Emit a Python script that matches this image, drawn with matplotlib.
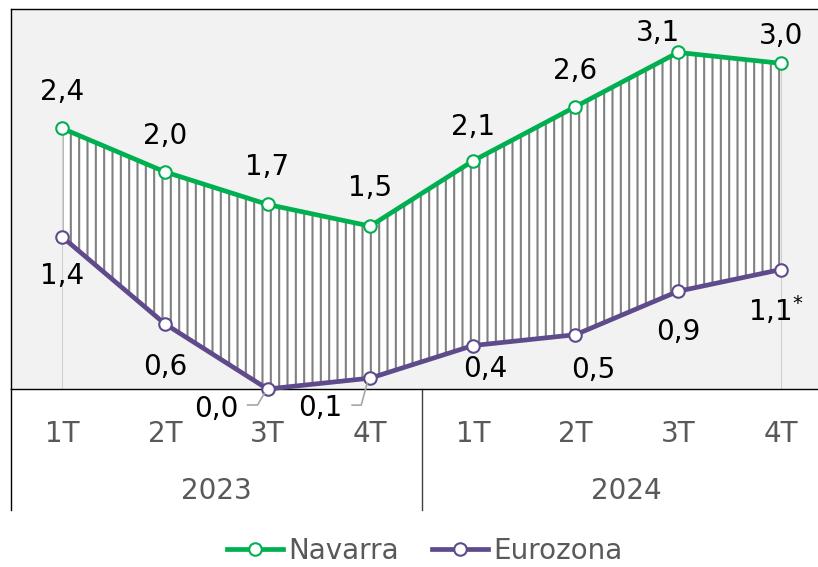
import numpy as np
import matplotlib.pyplot as plt
from matplotlib.lines import Line2D
import matplotlib.transforms as mtransforms

plt.rcParams['font.family'] = ['DejaVu Sans']

quarters = ["1T", "2T", "3T", "4T", "1T", "2T", "3T", "4T"]
years = ["2023", "2024"]
navarra = [2.4, 2.0, 1.7, 1.5, 2.1, 2.6, 3.1, 3.0]
eurozona = [1.4, 0.6, 0.0, 0.1, 0.4, 0.5, 0.9, 1.1]
nav_labels = ["2,4", "2,0", "1,7", "1,5", "2,1", "2,6", "3,1", "3,0"]
eur_labels = ["1,4", "0,6", "0,0", "0,1", "0,4", "0,5", "0,9", "1,1*"]

green = "#00B050"
purple = "#5F4B8B"

fig = plt.figure(figsize=(8.18, 5.67), dpi=100)
W, H = 818, 567
ax = fig.add_axes([11 / W, (H - 389) / H, (832 - 11) / W, (389 - 9) / H])
ax.set_facecolor("#F2F2F2")
ax.set_xlim(-0.5, 7.5)
ax.set_ylim(0, 3.5)

x = np.arange(len(quarters))

# banda rayada entre las dos series
plt.rcParams['hatch.linewidth'] = 1.5
ax.fill_between(x, eurozona, navarra, facecolor="white", edgecolor="#808080",
                hatch="||", linewidth=0, zorder=1)
ax.vlines([x[0], x[-1]], 0, [navarra[0], navarra[-1]], color="#D0D0D0", lw=0.8, zorder=1.5)

ax.plot(x, navarra, color=green, lw=3.4, marker="o", ms=9, mfc="white", mec=green, mew=1.5,
        zorder=3, clip_on=False)
ax.plot(x, eurozona, color=purple, lw=3.4, marker="o", ms=9, mfc="white", mec=purple, mew=1.5,
        zorder=3, clip_on=False)

fs = 20
px = 0.72  # pixels -> points

# desplazamientos de etiquetas en pixeles (dx, dy hacia arriba)
nav_off = [(0, 36), (0, 36), (0, 37), (0, 38), (0, 34), (0, 36), (-20, 19), (0, 27)]
for i, (v, t) in enumerate(zip(navarra, nav_labels)):
    dx, dy = nav_off[i]
    ax.annotate(t, (i, v), xytext=(dx * px, dy * px), textcoords="offset points", ha="center",
                va="center", fontsize=fs, color="black", zorder=4, annotation_clip=False)

eur_off = [(0, -39), (0, -43), (-51, -20), (-50, -30), (12, -23), (18, -35), (0, -41), (-5, -41)]
for i, (v, t) in enumerate(zip(eurozona, eur_labels)):
    dx, dy = eur_off[i]
    ha = "center"
    if t.endswith("*"):
        t = t[:-1] + r"$^{*}$"
    ax.annotate(t, (i, v), xytext=(dx * px, dy * px), textcoords="offset points", ha=ha,
                va="center", fontsize=fs, color="black", zorder=4, annotation_clip=False)

# lineas guia para 0,0 y 0,1
fig.canvas.draw()
leaders = {2: [(-20, 16), (-10, 16), (-3, 4)], 3: [(-18, 27), (-9, 27), (-3, 5)]}
for i, pts in leaders.items():
    p0 = ax.transData.transform((x[i], eurozona[i]))
    xs = [p0[0] + a for a, b in pts]
    ys = [p0[1] - b for a, b in pts]
    fig.add_artist(Line2D(xs, ys, transform=mtransforms.IdentityTransform(),
                          color="#A6A6A6", lw=1.2, zorder=5))

ax.spines["right"].set_visible(False)
for s in ["top", "left", "bottom"]:
    ax.spines[s].set_color("black")
    ax.spines[s].set_linewidth(1.0)
ax.set_yticks([])
ax.set_xticks(x)
ax.set_xticklabels(quarters, fontsize=fs, color="#595959")
ax.tick_params(axis="x", length=0, pad=22)

trans = mtransforms.blended_transform_factory(ax.transData, ax.transAxes)
low = -(510 - 389) / 380
ax.plot([-0.5, -0.5], [0, low], transform=trans, color="black", lw=1.0, clip_on=False)
ax.plot([3.5, 3.5], [0, low], transform=trans, color="#404040", lw=1.0, clip_on=False)
for j, yr in enumerate(years):
    ax.text(1.5 + 4 * j, -(491 - 389) / 380, yr, transform=trans, ha="center", va="center",
            fontsize=fs, color="#595959")

handles = [
    Line2D([], [], color=green, lw=3.4, marker="o", ms=9, mfc="white", mec=green, mew=1.5),
    Line2D([], [], color=purple, lw=3.4, marker="o", ms=9, mfc="white", mec=purple, mew=1.5),
]
fig.legend(handles, ["Navarra", "Eurozona"], loc="center", bbox_to_anchor=(425 / W, 1 - 551 / H),
           ncol=2, frameon=False, fontsize=fs, handlelength=2.0, handletextpad=0.2,
           columnspacing=1.2, labelcolor="#595959")

fig.savefig("out.png", dpi=100)
